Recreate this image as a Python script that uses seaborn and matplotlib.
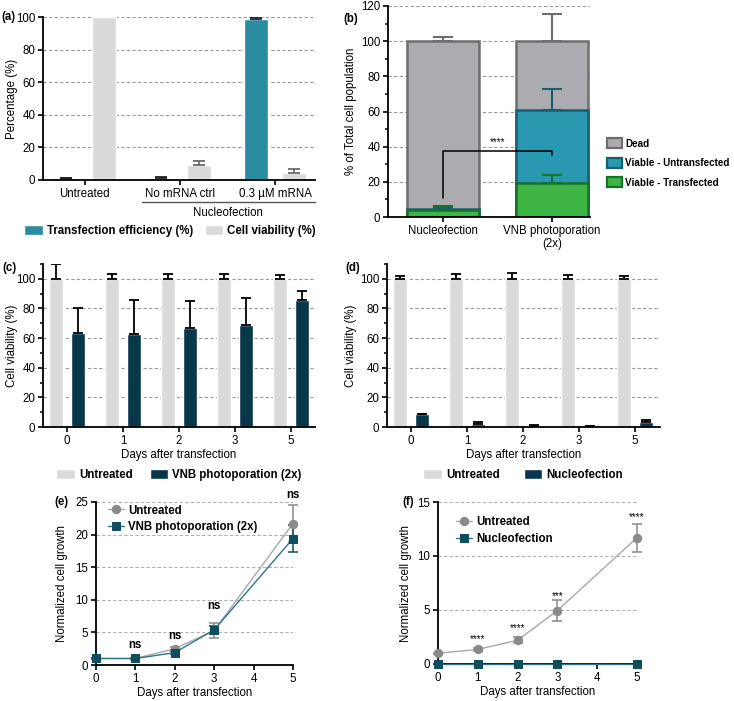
import numpy as np
import pandas as pd
import matplotlib
matplotlib.use("Agg")
import matplotlib.pyplot as plt
from matplotlib.patches import Patch
import matplotlib.transforms as mtransforms
import seaborn as sns

# ---------------- data ----------------
# (a)
a_groups = ["Untreated", "No mRNA ctrl", "0.3 µM mRNA"]
a_series = ["Transfection efficiency (%)", "Cell viability (%)"]
a_te = [1.0, 1.2, 98.8]
a_te_err = [0.3, 0.6, 1.0]
a_cv = [100.0, 9.5, 4.0]
a_cv_err = [0.0, 2.0, 2.5]

# (b)
b_groups = ["Nucleofection", "VNB photoporation\n(2x)"]
b_transfected = [4.0, 19.5]
b_transfected_err = [2.5, 4.5]
b_untransfected = [0.3, 41.5]
b_untransfected_err = [0.8, 12.0]
b_dead = [95.7, 39.0]
b_dead_err = [2.5, 15.5]

# (c) / (d)
days_cat = ["0", "1", "2", "3", "5"]
c_untreated = [100, 100, 100, 100, 100]
c_untreated_err = [10.0, 3.5, 3.5, 3.5, 2.5]
c_vnb = [63.5, 63.0, 67.0, 68.5, 85.5]
c_vnb_err = [16.5, 22.5, 18.0, 18.5, 6.0]
d_untreated = [100, 100, 100, 100, 100]
d_untreated_err = [2.0, 3.0, 4.0, 2.5, 2.0]
d_nucleo = [8.5, 2.0, 1.0, 0.5, 3.5]
d_nucleo_err = [0.4, 1.3, 0.6, 0.5, 1.0]

# (e) / (f)
days_num = [0, 1, 2, 3, 5]
e_untreated = [1.0, 1.0, 2.5, 5.3, 21.7]
e_untreated_err = [0.1, 0.1, 0.2, 1.2, 2.9]
e_vnb = [1.0, 1.0, 1.9, 5.4, 19.4]
e_vnb_err = [0.1, 0.1, 0.2, 0.6, 2.0]
e_sig = ["", "ns", "ns", "ns", "ns"]
e_sig_y = [0, 3.1, 4.4, 9.0, 26.0]
f_untreated = [1.0, 1.35, 2.2, 4.95, 11.7]
f_untreated_err = [0.05, 0.1, 0.3, 0.95, 1.3]
f_nucleo = [0.03, 0.03, 0.03, 0.03, 0.03]
f_sig = ["", "****", "****", "***", "****"]
f_sig_y = [0, 2.3, 3.3, 6.3, 13.6]

# ---------------- style ----------------
sns.set_theme(style="white")
plt.rcParams["font.family"] = ["Liberation Sans", "DejaVu Sans"]
FS = 8.3
plt.rcParams.update({
    "font.size": FS, "axes.labelsize": FS, "xtick.labelsize": FS, "ytick.labelsize": FS,
    "axes.linewidth": 1.3, "xtick.major.width": 1.2, "ytick.major.width": 1.2,
    "xtick.major.size": 3.5, "ytick.major.size": 3.5, "ytick.minor.size": 2.2,
    "ytick.minor.width": 1.1, "xtick.direction": "out", "ytick.direction": "out",
    "axes.edgecolor": "black", "xtick.color": "black", "ytick.color": "black",
    "text.color": "black", "axes.labelcolor": "black",
    "xtick.bottom": True, "ytick.left": True,
})

TEAL = "#2A8BA1"
LGRAY = "#DADADA"
DARK = "#07384A"
DEAD_F, DEAD_E = "#ACACB0", "#6E6E6E"
UNT_F, UNT_E = "#2B98B2", "#175F75"
TR_F, TR_E = "#3DB443", "#16722A"
GR_M, GR_L = "#8A8A8A", "#A8A8A8"
TL_M, TL_L = "#0E4E5E", "#2B7586"

W, H = 734, 701
fig = plt.figure(figsize=(W / 100, H / 100), dpi=100)


def add_ax(l, t, r, b):
    return fig.add_axes([l / W, 1 - b / H, (r - l) / W, (b - t) / H])


def style_ax(ax, minor=None):
    sns.despine(ax=ax)
    ax.yaxis.grid(True, linestyle=(0, (3, 2)), color="#9A9A9A", linewidth=0.8)
    ax.xaxis.grid(False)
    ax.set_axisbelow(True)
    if minor is not None:
        ax.yaxis.set_minor_locator(matplotlib.ticker.MultipleLocator(minor))
    ax.tick_params(axis="both", pad=2)


def bar_centers(container):
    return [p.get_x() + p.get_width() / 2 for p in container.patches]


def upper_err(ax, xs, ys, errs, color, cap=4, lw=1.3):
    xs = np.asarray(xs, float)
    ys = np.asarray(ys, float)
    errs = np.asarray(errs, float)
    m = errs > 0
    ax.errorbar(xs[m], ys[m], yerr=[np.zeros(m.sum()), errs[m]], fmt="none",
                ecolor=color, elinewidth=lw, capsize=cap, capthick=lw, zorder=1.5)


bold = {"weight": "bold", "size": FS}

# ---------------- (a) ----------------
axA = add_ax(43, 17, 315, 180)
dfA = pd.DataFrame({
    "group": a_groups * 2,
    "series": [a_series[0]] * 3 + [a_series[1]] * 3,
    "value": a_te + a_cv,
})
sns.barplot(data=dfA, x="group", y="value", hue="series", order=a_groups,
            hue_order=a_series, palette=[TEAL, LGRAY], saturation=1,
            errorbar=None, width=0.8, gap=0.35, ax=axA, legend=False)
upper_err(axA, bar_centers(axA.containers[0]), a_te, a_te_err, "#222222")
upper_err(axA, bar_centers(axA.containers[1]), a_cv, a_cv_err, "#6A6A6A")
axA.set_xlim(-0.44, 2.42)
axA.set_ylim(0, 100)
axA.set_yticks([0, 20, 40, 60, 80, 100])
axA.set_xlabel("")
axA.set_ylabel("Percentage (%)")
axA.yaxis.set_label_coords(-0.092, 0.5)
style_ax(axA)
trA = mtransforms.blended_transform_factory(axA.transData, axA.transAxes)
axA.plot([0.6, 2.42], [-0.135, -0.135], transform=trA, color="#555555",
         lw=1.0, clip_on=False)
axA.text(1.5, -0.205, "Nucleofection", transform=trA, ha="center", va="center")
fig.legend(handles=[Patch(facecolor=TEAL, label=a_series[0]),
                    Patch(facecolor=LGRAY, label=a_series[1])],
           loc="center", bbox_to_anchor=(170 / W, 1 - 231 / H), ncol=2,
           frameon=False, prop=bold, handlelength=1.6, handleheight=1.0,
           handletextpad=0.35, columnspacing=1.0, borderpad=0)

# ---------------- (b) ----------------
axB = add_ax(388, 6, 590, 217)
top_tr = np.array(b_transfected)
top_unt = top_tr + np.array(b_untransfected)
top_dead = top_unt + np.array(b_dead)
for tops, fc, ec in [(top_dead, DEAD_F, DEAD_E), (top_unt, UNT_F, UNT_E),
                     (top_tr, TR_F, TR_E)]:
    sns.barplot(x=b_groups, y=tops, order=b_groups, color=fc, saturation=1,
                edgecolor=ec, linewidth=1.8, errorbar=None, width=0.66, ax=axB)
xsB = bar_centers(axB.containers[0])
upper_err(axB, xsB, top_dead, b_dead_err, DEAD_E, cap=7, lw=1.5)
upper_err(axB, xsB, top_unt, b_untransfected_err, UNT_E, cap=7, lw=1.5)
upper_err(axB, xsB, top_tr, b_transfected_err, TR_E, cap=7, lw=1.5)
axB.set_xlim(-0.505, 1.35)
axB.set_ylim(0, 120)
axB.set_yticks(range(0, 121, 20))
axB.set_ylabel("% of Total cell population")
axB.yaxis.set_label_coords(-0.153, 0.5)
style_ax(axB, minor=10)
axB.plot([xsB[0], xsB[0], xsB[1], xsB[1]], [11, 37.5, 37.5, 35], color="black", lw=1.1)
axB.text((xsB[0] + xsB[1]) / 2, 40, "****", ha="center", va="bottom", fontsize=7)
fig.legend(handles=[Patch(facecolor=DEAD_F, edgecolor=DEAD_E, lw=1.6, label="Dead"),
                    Patch(facecolor=UNT_F, edgecolor=UNT_E, lw=1.6, label="Viable - Untransfected"),
                    Patch(facecolor=TR_F, edgecolor=TR_E, lw=1.6, label="Viable - Transfected")],
           loc="center left", bbox_to_anchor=(607 / W, 1 - 163 / H), frameon=False,
           prop={"weight": "bold", "size": 7.1}, handlelength=1.55, handleheight=1.15,
           handletextpad=0.3, labelspacing=0.95, borderpad=0, borderaxespad=0)


# ---------------- (c) / (d) ----------------
def viability_panel(ax, s1, e1, s2, e2, names, c2):
    df = pd.DataFrame({"day": days_cat * 2, "series": [names[0]] * 5 + [names[1]] * 5,
                       "value": s1 + s2})
    sns.barplot(data=df, x="day", y="value", hue="series", order=days_cat,
                hue_order=names, palette=[LGRAY, c2], saturation=1, errorbar=None,
                width=0.8, gap=0.38, ax=ax, legend=False)
    upper_err(ax, bar_centers(ax.containers[0]), s1, e1, "black", cap=3.5)
    upper_err(ax, bar_centers(ax.containers[1]), s2, e2, "black", cap=3.5)
    ax.set_ylim(0, 110)
    ax.set_yticks(range(0, 101, 20))
    ax.set_xlabel("Days after transfection", labelpad=2)
    ax.set_ylabel("Cell viability (%)")
    style_ax(ax, minor=10)


axC = add_ax(43, 264, 315, 427)
viability_panel(axC, c_untreated, c_untreated_err, c_vnb, c_vnb_err,
                ["Untreated", "VNB photoporation (2x)"], DARK)
axC.set_xlim(-0.43, 4.43)
axC.yaxis.set_label_coords(-0.092, 0.5)
fig.legend(handles=[Patch(facecolor=LGRAY, label="Untreated"),
                    Patch(facecolor=DARK, label="VNB photoporation (2x)")],
           loc="center", bbox_to_anchor=(179 / W, 1 - 475 / H), ncol=2, frameon=False,
           prop=bold, handlelength=1.6, handleheight=1.0, handletextpad=0.35,
           columnspacing=1.5, borderpad=0)

axD = add_ax(387, 264, 660, 427)
viability_panel(axD, d_untreated, d_untreated_err, d_nucleo, d_nucleo_err,
                ["Untreated", "Nucleofection"], DARK)
axD.set_xlim(-0.43, 4.45)
axD.yaxis.set_label_coords(-0.11, 0.5)
fig.legend(handles=[Patch(facecolor=LGRAY, label="Untreated"),
                    Patch(facecolor=DARK, label="Nucleofection")],
           loc="center", bbox_to_anchor=(523 / W, 1 - 475 / H), ncol=2, frameon=False,
           prop=bold, handlelength=1.6, handleheight=1.0, handletextpad=0.35,
           columnspacing=2.1, borderpad=0)


# ---------------- (e) / (f) ----------------
def growth_panel(ax, y1, e1, y2, e2, name2, ymax, ystep):
    sns.lineplot(x=days_num, y=y1, ax=ax, color=GR_L, lw=1.0, marker="o",
                 markersize=6, markerfacecolor=GR_M, markeredgecolor=GR_M,
                 label="Untreated", clip_on=False, zorder=3)
    sns.lineplot(x=days_num, y=y2, ax=ax, color=TL_L, lw=1.0, marker="s",
                 markersize=6, markerfacecolor=TL_M, markeredgecolor=TL_M,
                 label=name2, clip_on=False, zorder=4)
    ax.errorbar(days_num, y1, yerr=e1, fmt="none", ecolor=GR_M, elinewidth=1.1,
                capsize=3.5, capthick=1.1, zorder=2, clip_on=False)
    if e2 is not None:
        ax.errorbar(days_num, y2, yerr=e2, fmt="none", ecolor=TL_M, elinewidth=1.1,
                    capsize=3.5, capthick=1.1, zorder=2, clip_on=False)
    ax.set_xlim(0, 5)
    ax.set_ylim(0, ymax)
    ax.set_xticks(range(0, 6))
    ax.set_yticks(np.arange(0, ymax + 0.1, ystep))
    ax.set_xlabel("Days after transfection", labelpad=2)
    ax.set_ylabel("Normalized cell growth")
    style_ax(ax)
    ax.yaxis.grid(True, linestyle=(0, (3, 2)), color="#B0B0B0", linewidth=0.8)


axE = add_ax(96, 502, 293, 665)
growth_panel(axE, e_untreated, e_untreated_err, e_vnb, e_vnb_err,
             "VNB photoporation (2x)", 25, 5)
axE.yaxis.set_label_coords(-0.142, 0.5)
for x, s, y in zip(days_num, e_sig, e_sig_y):
    if s:
        axE.text(x, y, s, ha="center", va="center", fontweight="bold", fontsize=FS,
                 clip_on=False)
axE.legend(loc="upper left", bbox_to_anchor=(0.03, 1.02), frameon=False, prop=bold,
           handlelength=1.4, handletextpad=0.35, labelspacing=0.35, borderpad=0)

axF = add_ax(438, 502, 637, 664)
growth_panel(axF, f_untreated, f_untreated_err, f_nucleo, None,
             "Nucleofection", 15, 5)
axF.yaxis.set_label_coords(-0.13, 0.5)
for x, s, y in zip(days_num, f_sig, f_sig_y):
    if s:
        axF.text(x, y, s, ha="center", va="center", fontsize=7, clip_on=False)
axF.legend(loc="upper left", bbox_to_anchor=(0.06, 0.95), frameon=False, prop=bold,
           handlelength=1.4, handletextpad=0.35, labelspacing=0.45, borderpad=0)

# ---------------- panel letters ----------------
for lab, x, y in [("(a)", 1, 17), ("(b)", 343, 19), ("(c)", 2, 268), ("(d)", 345, 268),
                  ("(e)", 54, 502), ("(f)", 402, 502)]:
    fig.text(x / W, 1 - y / H, lab, fontweight="bold", fontsize=FS, va="center", ha="left")

fig.savefig("out.png", dpi=100)
